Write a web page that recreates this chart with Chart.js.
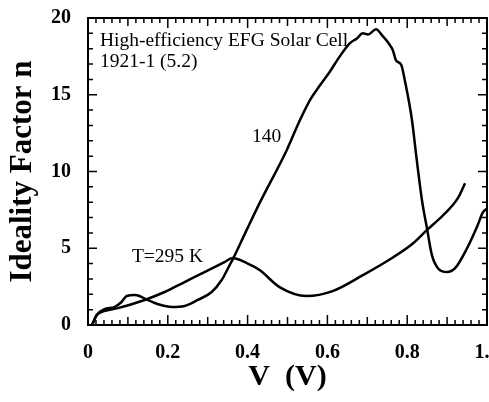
<!DOCTYPE html>
<html>
<head>
<meta charset="utf-8">
<script src="https://cdn.jsdelivr.net/npm/chart.js@4.4.1/dist/chart.umd.min.js"></script>
<style>
  html, body { margin: 0; padding: 0; background: #fff; }
  #wrap { width: 489px; height: 402px; }
</style>
</head>
<body>
<div id="wrap"><canvas id="myChart"></canvas></div>
<script>
// 140 K curve
const v140 = [0.01, 0.022, 0.041, 0.066, 0.084, 0.097, 0.117, 0.129, 0.149, 0.174, 0.21, 0.242, 0.275, 0.31, 0.335, 0.355, 0.363, 0.396, 0.43, 0.498, 0.531, 0.556, 0.581, 0.606, 0.631, 0.656, 0.674, 0.689, 0.702, 0.722, 0.737, 0.752, 0.764, 0.772, 0.785, 0.794, 0.812, 0.824, 0.837, 0.849, 0.862, 0.877, 0.9, 0.92, 0.95, 0.975, 0.99, 1.0];
const n140 = [0.0, 0.65, 1.04, 1.17, 1.5, 1.89, 1.95, 1.89, 1.63, 1.37, 1.17, 1.24, 1.63, 2.15, 2.93, 3.9, 4.29, 6.1, 7.94, 11.39, 13.34, 14.64, 15.6, 16.5, 17.5, 18.35, 18.67, 19.0, 18.93, 19.26, 18.87, 18.41, 17.9, 17.24, 16.95, 15.94, 13.34, 10.74, 8.13, 6.38, 4.55, 3.7, 3.45, 3.7, 5.0, 6.4, 7.35, 7.6];

// 295 K curve
const v295 = [0.01, 0.022, 0.04, 0.075, 0.142, 0.192, 0.242, 0.292, 0.342, 0.362, 0.398, 0.43, 0.48, 0.548, 0.613, 0.689, 0.764, 0.815, 0.849, 0.89, 0.927, 0.945];
const n295 = [0.0, 0.65, 0.9, 1.1, 1.63, 2.15, 2.8, 3.45, 4.1, 4.36, 4.03, 3.58, 2.47, 1.89, 2.21, 3.25, 4.4, 5.33, 6.18, 7.15, 8.26, 9.24];

// text inside the plot
const noteText = ["High-efficiency EFG Solar Cell", "1921-1 (5.2)", "140", "T=295 K"];
const noteV = [0.03, 0.03, 0.411, 0.11];
const noteN = [18.5, 17.15, 12.25, 4.45];

const serif = "'Liberation Serif', 'Times New Roman', serif";

function toPoints(xs, ys) {
    return xs.map((x, i) => ({x: x, y: ys[i]}));
}

const frameTicks = {
    id: 'frameTicks',
    afterDatasetsDraw(chart) {
        const ctx = chart.ctx;
        const a = chart.chartArea;
        const x = chart.scales.x;
        const y = chart.scales.y;
        ctx.save();
        ctx.strokeStyle = '#000';
        ctx.lineWidth = 1.5;
        for (let i = 0; i <= 50; i++) {
            const px = x.getPixelForValue(i / 50);
            const len = i % 10 == 0 ? 10 : (i % 5 == 0 ? 8 : 5);
            ctx.beginPath();
            ctx.moveTo(px, a.bottom); ctx.lineTo(px, a.bottom - len);
            ctx.moveTo(px, a.top); ctx.lineTo(px, a.top + len);
            ctx.stroke();
        }
        for (let i = 0; i <= 20; i++) {
            const py = y.getPixelForValue(i);
            const len = i % 5 == 0 ? 9 : 5;
            ctx.beginPath();
            ctx.moveTo(a.left, py); ctx.lineTo(a.left + len, py);
            ctx.moveTo(a.right, py); ctx.lineTo(a.right - len, py);
            ctx.stroke();
        }
        ctx.lineWidth = 2;
        ctx.strokeRect(a.left, a.top, a.right - a.left, a.bottom - a.top);

        ctx.fillStyle = '#000';
        ctx.font = "19.5px " + serif;
        ctx.textBaseline = 'middle';
        ctx.textAlign = 'left';
        for (let i = 0; i < noteText.length; i++) {
            ctx.fillText(noteText[i], x.getPixelForValue(noteV[i]), y.getPixelForValue(noteN[i]));
        }
        ctx.restore();
    }
};

const ctx = document.getElementById('myChart');

new Chart(ctx, {
    type: 'scatter',
    data: {
        datasets: [{
            label: '140 K',
            data: toPoints(v140, n140),
            showLine: true,
            borderColor: '#000',
            borderWidth: 2.5,
            pointRadius: 0,
            cubicInterpolationMode: 'monotone'
        }, {
            label: '295 K',
            data: toPoints(v295, n295),
            showLine: true,
            borderColor: '#000',
            borderWidth: 2.5,
            pointRadius: 0,
            cubicInterpolationMode: 'monotone'
        }]
    },
    options: {
        responsive: true,
        maintainAspectRatio: false,
        animation: false,
        layout: { padding: { top: 18, right: 2, left: 0, bottom: 0 } },
        plugins: {
            legend: { display: false },
            tooltip: { enabled: false }
        },
        scales: {
            x: {
                type: 'linear',
                min: 0,
                max: 1,
                grid: { display: false, drawTicks: false },
                border: { display: false },
                ticks: {
                    stepSize: 0.2,
                    padding: 16,
                    color: '#000',
                    font: { family: serif, size: 20, weight: 'bold' },
                    maxRotation: 0
                },
                title: {
                    display: true,
                    text: 'V  (V)',
                    color: '#000',
                    font: { family: serif, size: 30, weight: 'bold' },
                    padding: { top: 0, bottom: 7 }
                },
                afterFit(scale) {
                    scale.height = 77;
                    scale.paddingLeft = 0;
                    scale.paddingRight = 0;
                }
            },
            y: {
                min: 0,
                max: 20,
                grid: { display: false, drawTicks: false },
                border: { display: false },
                ticks: {
                    stepSize: 5,
                    padding: 17,
                    color: '#000',
                    font: { family: serif, size: 20, weight: 'bold' }
                },
                title: {
                    display: true,
                    text: 'Ideality Factor n',
                    color: '#000',
                    font: { family: serif, size: 31, weight: 'bold' },
                    padding: { top: 4, bottom: 0 }
                },
                afterFit(scale) {
                    scale.width = 88;
                    scale.paddingTop = 0;
                    scale.paddingBottom = 0;
                }
            }
        }
    },
    plugins: [frameTicks]
});
</script>
</body>
</html>
